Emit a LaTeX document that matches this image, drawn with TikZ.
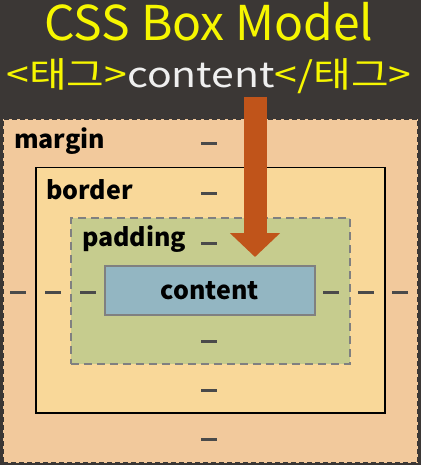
\documentclass[tikz,border=0pt]{standalone}
\usepackage{fontspec}
\setmainfont{Noto Sans CJK KR}
\usetikzlibrary{arrows.meta,positioning}

\definecolor{bgdark}{HTML}{3B3735}
\definecolor{marginfill}{HTML}{F2C99C}
\definecolor{borderfill}{HTML}{F9D899}
\definecolor{paddingfill}{HTML}{C6CC8E}
\definecolor{contentfill}{HTML}{93B6C2}
\definecolor{arrowfill}{HTML}{C0541A}
\definecolor{titleyellow}{HTML}{F6F600}
\definecolor{dashgray}{HTML}{4A4A4A}

\tikzset{
    layer/.style={draw, anchor=north west, inner sep=0pt},
    boxlabel/.style={anchor=west, font=\fontsize{25}{28}\selectfont\bfseries, inner sep=0pt},
    gap/.style={fill=dashgray, inner sep=0pt, minimum width=16pt, minimum height=3pt},
}

\begin{document}
\begin{tikzpicture}[x=1pt,y=-1pt]
                \fill [bgdark] (0,0) rectangle (421,465);
                \fill [white] (0,465) rectangle (421,470);
                \useasboundingbox (0,0) rectangle (421,470);

                % title lines
                \node (title) at (209,22) {\color{titleyellow}\fontsize{48}{50}\selectfont CSS Box Model};
                \node (tag) at (209,76) {\scalebox{1.17}[1]{\fontsize{35}{38}\selectfont\color{titleyellow}<태그>\color[HTML]{EFEFEF}content\color{titleyellow}</태그>}};

                % nested boxes
                \node [layer, fill=marginfill, draw=bgdark, dash pattern=on 5pt off 3pt, line width=2pt, minimum width=415pt, minimum height=344pt] (margin) at (2,118) {};
                \node [layer, fill=borderfill, draw=black, line width=1.5pt, minimum width=349pt, minimum height=245pt] (border) at (35,167) {};
                \node [layer, fill=paddingfill, draw=gray, dash pattern=on 8pt off 5pt, line width=1.5pt, minimum width=279pt, minimum height=146pt] (padding) at (70,217) {};
                \node [layer, fill=contentfill, draw=gray, line width=1.5pt, minimum width=210pt, minimum height=49pt] (content) at (104,265) {};

                \node [boxlabel] (margin-label) at (14,141) {margin};
                \node [boxlabel] (border-label) at (46,190) {border};
                \node [boxlabel] (padding-label) at (82,239) {padding};
                \node [font=\fontsize{25}{28}\selectfont\bfseries, inner sep=0pt] (content-label) at (content.center) {content};

                % gaps
                \foreach \y/\n in {144/mt,193/bt,243/pt,341/pb,390/bb,439/mb}
                    \node [gap] (gap-\n) at (209,\y) {};
                \foreach \x/\n in {18/ml,53/bl,88/pl,331/pr,366/br,400/mr}
                    \node [gap] (gap-\n) at (\x,292) {};

                % arrow from the tag content into the box
                \coordinate (arrow-start) at (255,97);
                \coordinate (arrow-end) at (255,257);
                \draw [arrowfill, line width=23pt, -{Triangle[width=49pt,length=24pt]}] (arrow-start) -- (arrow-end);
            \end{tikzpicture}
\end{document}
